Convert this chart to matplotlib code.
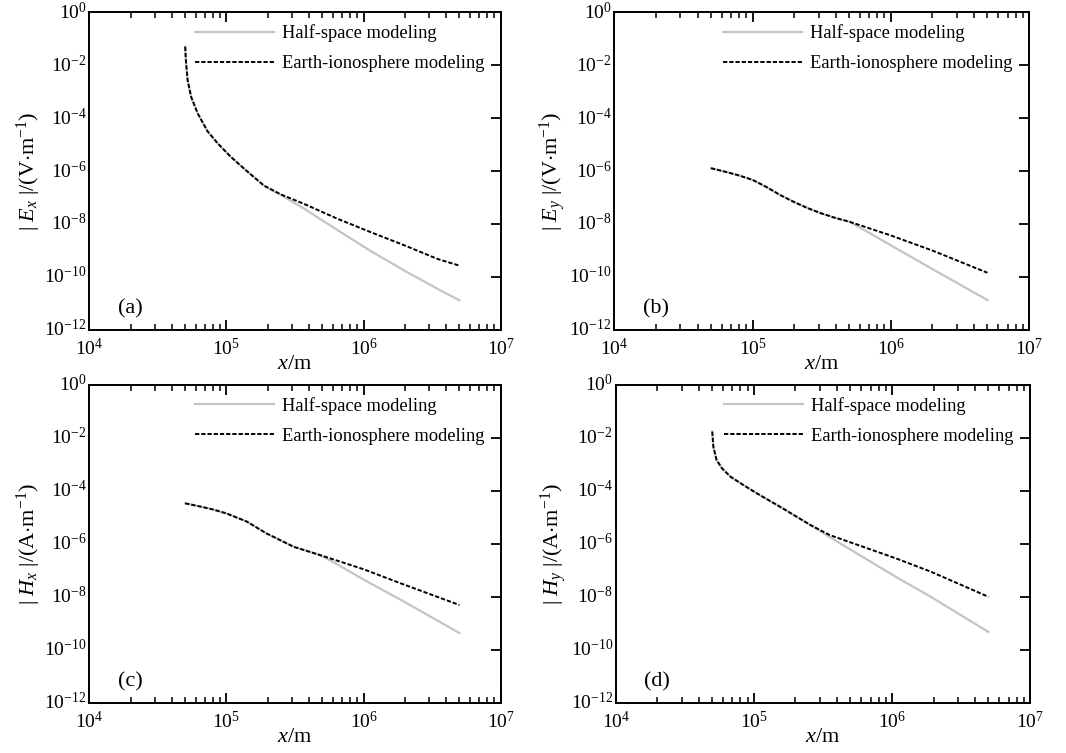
import matplotlib
matplotlib.use("Agg")
import matplotlib.pyplot as plt
import matplotlib.transforms as mtransforms
from matplotlib.ticker import LogFormatterMathtext, LogLocator, NullLocator

plt.rcParams["font.family"] = ["Liberation Serif", "DejaVu Serif"]
plt.rcParams["mathtext.fontset"] = "custom"
plt.rcParams["mathtext.rm"] = "Liberation Serif"
plt.rcParams["mathtext.it"] = "Liberation Serif:italic"
plt.rcParams["mathtext.bf"] = "Liberation Serif:bold"
plt.rcParams["axes.linewidth"] = 1.4

HS_COLOR = "#c4c4c4"
EI_COLOR = "#000000"

# (a) |Ex|
a_ei_x = [5.0e4, 5.07e4, 5.21e4, 5.52e4, 6.17e4, 7.29e4, 8.63e4, 1.07e5, 1.41e5,
          1.88e5, 2.49e5, 3.69e5, 6.46e5, 1.12e6, 2.0e6, 3.47e6, 5.0e6]
a_ei_y = [5.0e-2, 1.26e-2, 2.75e-3, 6.46e-4, 1.51e-4, 3.16e-5, 1.12e-5, 3.55e-6, 1.0e-6,
          2.82e-7, 1.32e-7, 5.75e-8, 1.58e-8, 5.01e-9, 1.55e-9, 4.79e-10, 2.69e-10]
a_hs_x = [5.0e4, 5.07e4, 5.21e4, 5.52e4, 6.17e4, 7.29e4, 8.63e4, 1.07e5, 1.41e5,
          1.88e5, 2.49e5, 3.69e5, 6.46e5, 1.12e6, 2.0e6, 3.47e6, 5.0e6]
a_hs_y = [5.0e-2, 1.26e-2, 2.75e-3, 6.46e-4, 1.51e-4, 3.16e-5, 1.12e-5, 3.55e-6, 1.0e-6,
          2.82e-7, 1.26e-7, 3.80e-8, 5.89e-9, 9.77e-10, 1.70e-10, 3.55e-11, 1.32e-11]

# (b) |Ey|
b_ei_x = [5.0e4, 6.31e4, 7.94e4, 1.0e5, 1.26e5, 1.58e5, 2.0e5, 2.51e5, 3.16e5,
          3.98e5, 5.01e5, 1.0e6, 2.0e6, 5.0e6]
b_ei_y = [1.29e-6, 9.55e-7, 6.92e-7, 4.68e-7, 2.51e-7, 1.26e-7, 6.76e-8, 3.98e-8, 2.51e-8,
          1.70e-8, 1.23e-8, 3.72e-9, 1.0e-9, 1.45e-10]
b_hs_x = [5.0e4, 6.31e4, 7.94e4, 1.0e5, 1.26e5, 1.58e5, 2.0e5, 2.51e5, 3.16e5,
          3.98e5, 5.01e5, 6.31e5, 1.0e6, 2.0e6, 5.0e6]
b_hs_y = [1.29e-6, 9.55e-7, 6.92e-7, 4.68e-7, 2.51e-7, 1.26e-7, 6.76e-8, 3.98e-8, 2.51e-8,
          1.70e-8, 1.23e-8, 6.31e-9, 1.58e-9, 2.0e-10, 1.35e-11]

# (c) |Hx|
c_ei_x = [5.0e4, 6.31e4, 7.94e4, 1.0e5, 1.41e5, 1.95e5, 3.09e5, 4.79e5, 1.0e6, 1.86e6, 5.0e6]
c_ei_y = [3.39e-5, 2.63e-5, 2.0e-5, 1.41e-5, 6.92e-6, 2.51e-6, 7.76e-7, 3.80e-7, 1.10e-7,
          3.24e-8, 4.90e-9]
c_hs_x = [5.0e4, 6.31e4, 7.94e4, 1.0e5, 1.41e5, 1.95e5, 3.09e5, 4.79e5, 6.31e5, 1.0e6,
          2.0e6, 5.0e6]
c_hs_y = [3.39e-5, 2.63e-5, 2.0e-5, 1.41e-5, 6.92e-6, 2.51e-6, 7.76e-7, 3.80e-7, 1.78e-7,
          4.47e-8, 6.31e-9, 4.27e-10]

# (d) |Hy|
d_ei_x = [5.0e4, 5.09e4, 5.37e4, 5.89e4, 6.76e4, 8.41e4, 1.05e5, 1.62e5, 2.57e5, 3.55e5,
          6.17e5, 1.07e6, 1.91e6, 5.0e6]
d_ei_y = [1.74e-2, 4.68e-3, 1.48e-3, 7.08e-4, 3.47e-4, 1.66e-4, 8.13e-5, 2.19e-5, 5.13e-6,
          2.14e-6, 7.76e-7, 2.82e-7, 8.91e-8, 1.0e-8]
d_hs_x = [5.0e4, 5.09e4, 5.37e4, 5.89e4, 6.76e4, 8.41e4, 1.05e5, 1.62e5, 2.57e5, 3.55e5,
          6.17e5, 1.07e6, 1.91e6, 5.0e6]
d_hs_y = [1.74e-2, 4.68e-3, 1.48e-3, 7.08e-4, 3.47e-4, 1.66e-4, 8.13e-5, 2.19e-5, 5.13e-6,
          1.78e-6, 3.16e-7, 5.62e-8, 1.0e-8, 4.68e-10]

panels = [
    ([0.0838, 0.5618, 0.3859, 0.4219], a_hs_x, a_hs_y, a_ei_x, a_ei_y,
     r"$|\ E_x\ |/(\mathrm{V{\cdot}m^{-1}})$", "(a)"),
    ([0.5763, 0.5618, 0.3890, 0.4219], b_hs_x, b_hs_y, b_ei_x, b_ei_y,
     r"$|\ E_y\ |/(\mathrm{V{\cdot}m^{-1}})$", "(b)"),
    ([0.0838, 0.0668, 0.3859, 0.4219], c_hs_x, c_hs_y, c_ei_x, c_ei_y,
     r"$|\ H_x\ |/(\mathrm{A{\cdot}m^{-1}})$", "(c)"),
    ([0.5776, 0.0668, 0.3887, 0.4219], d_hs_x, d_hs_y, d_ei_x, d_ei_y,
     r"$|\ H_y\ |/(\mathrm{A{\cdot}m^{-1}})$", "(d)"),
]

fig = plt.figure(figsize=(10.66, 7.53), dpi=100)
lift = mtransforms.ScaledTranslation(0, 1.5 / 72, fig.dpi_scale_trans)

for rect, hx, hy, ex, ey, ylab, tag in panels:
    ax = fig.add_axes(rect)
    ax.plot(hx, hy, color=HS_COLOR, lw=1.6, label="Half-space modeling", zorder=2)
    ax.plot(ex, ey, color=EI_COLOR, lw=1.4, linestyle=(0, (2.2, 1.0)),
            label="Earth-ionosphere modeling", zorder=3)
    ax.set_xscale("log")
    ax.set_yscale("log")
    ax.set_xlim(1e4, 1e7)
    ax.set_ylim(1e-12, 1e0)
    ax.set_yticks([10.0 ** k for k in range(-12, 1, 2)])
    ax.yaxis.set_minor_locator(NullLocator())
    ax.yaxis.set_major_formatter(LogFormatterMathtext())
    ax.xaxis.set_major_locator(LogLocator(base=10, numticks=10))
    ax.xaxis.set_minor_locator(LogLocator(base=10, subs=range(2, 10), numticks=10))
    ax.tick_params(axis="x", which="both", direction="in", top=True, bottom=True,
                   labelsize=14, pad=6)
    ax.tick_params(axis="x", which="major", length=7, width=1.3)
    ax.tick_params(axis="x", which="minor", length=4, width=1.1)
    ax.tick_params(axis="y", which="major", direction="in", left=False, right=True,
                   labelleft=True, length=7, width=1.3, labelsize=14, pad=2)
    for lab in ax.get_yticklabels():
        lab.set_transform(lab.get_transform() + lift)
    ax.set_xlabel(r"$x$/m", fontsize=16, labelpad=-3)
    ax.set_ylabel(ylab, fontsize=16, labelpad=1)
    ax.text(0.10, 0.065, tag, transform=ax.transAxes, ha="center", va="center", fontsize=16)
    ax.legend(loc="upper right", frameon=False, fontsize=13.3, handlelength=4.3,
              handletextpad=0.43, labelspacing=0.7, borderaxespad=0.25,
              bbox_to_anchor=(0.99, 1.0))

fig.savefig("out.png", dpi=100)
